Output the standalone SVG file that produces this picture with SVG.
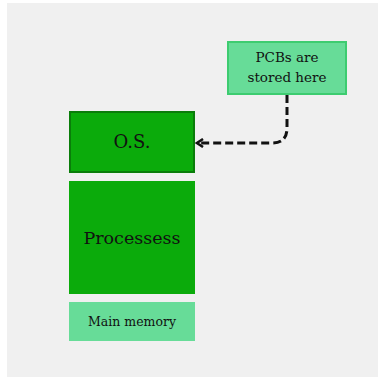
<svg xmlns="http://www.w3.org/2000/svg" width="378" height="378" viewBox="0 0 378 378">
<style>
.t{font-family:"DejaVu Serif","Liberation Serif",serif;fill:#111;text-anchor:middle}
.dark{fill:#0bab0b}
.light{fill:#67dc98}
</style>
<defs>
<marker id="ah" markerWidth="10" markerHeight="10" refX="8" refY="5" orient="auto" markerUnits="userSpaceOnUse">
<path d="M2,1 L8,5 L2,9" fill="none" stroke="#111" stroke-width="2.5"/>
</marker>
</defs>
<rect x="0" y="0" width="378" height="378" fill="#fff"/>
<rect x="7" y="3" width="371" height="374" fill="#f0f0f0"/>
<g id="os">
<rect x="70" y="112" width="124" height="60" class="dark" stroke="#0a7d0a" stroke-width="2"/>
<text class="t" x="132" y="148" font-size="18">O.S.</text>
</g>
<g id="processes">
<rect x="69" y="181" width="126" height="113" class="dark"/>
<text class="t" x="132" y="244" font-size="17.5">Processess</text>
</g>
<g id="mainmemory">
<rect x="69" y="302" width="126" height="39" class="light"/>
<text class="t" x="132" y="326" font-size="12.5">Main memory</text>
</g>
<g id="pcb">
<rect x="228" y="42" width="118" height="52" class="light" stroke="#3dcc70" stroke-width="2"/>
<text class="t" x="287" y="62" font-size="13.5">PCBs are</text>
<text class="t" x="287" y="82" font-size="13.5">stored here</text>
</g>
<g id="connectors">
<path d="M287,95 V128 Q287,143 272,143 H197" fill="none" stroke="#111" stroke-width="3" stroke-dasharray="8,4" marker-end="url(#ah)"/>
</g>
</svg>
